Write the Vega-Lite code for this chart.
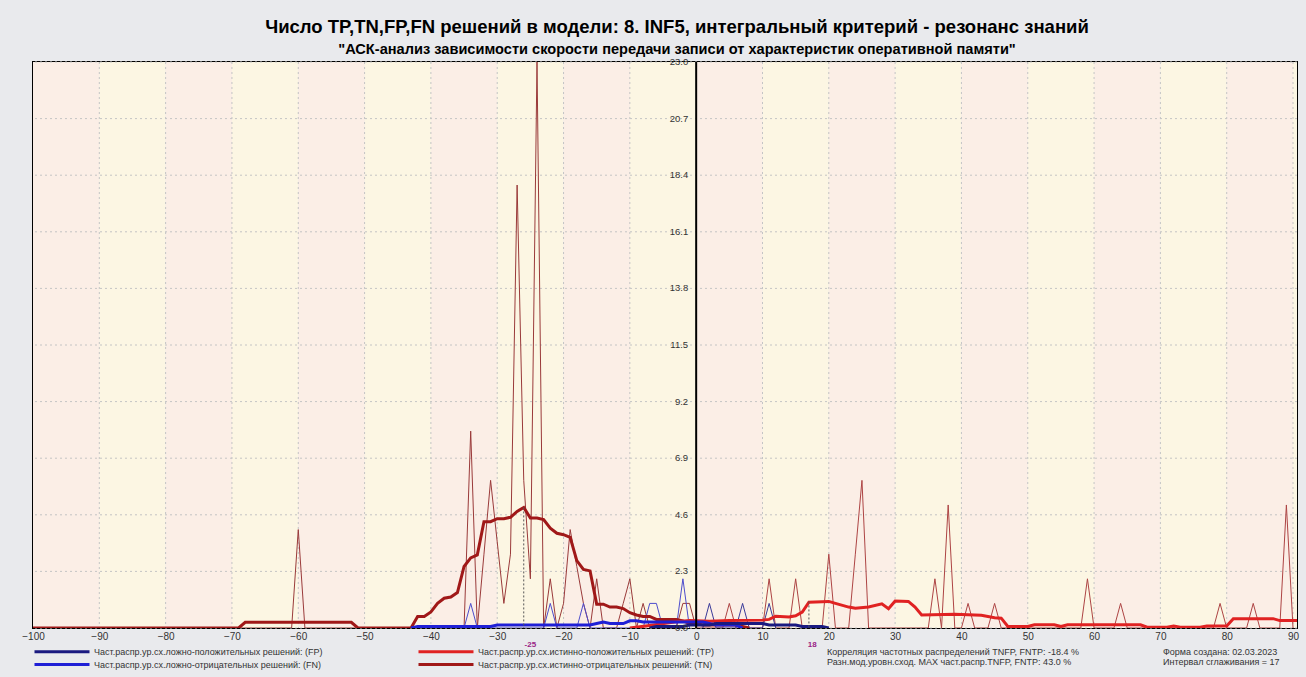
{
  "$schema": "https://vega.github.io/schema/vega-lite/v6.json",
  "width": 1264,
  "height": 566,
  "autosize": {"type": "none"},
  "padding": {"left": 33, "top": 62, "right": 9, "bottom": 49},
  "background": "#e9eaed",
  "title": {
    "text": "Число TP,TN,FP,FN решений в модели: 8. INF5, интегральный критерий - резонанс знаний",
    "subtitle": "\"АСК-анализ зависимости скорости передачи записи от характеристик оперативной памяти\"",
    "anchor": "middle",
    "dx": 12,
    "font": "Liberation Sans",
    "subtitleFont": "Liberation Sans",
    "fontSize": 18.5,
    "subtitleFontSize": 14.6,
    "fontWeight": "bold",
    "subtitleFontWeight": "bold",
    "color": "#000000",
    "subtitleColor": "#000000",
    "offset": 0,
    "subtitlePadding": 6
  },
  "config": {
    "view": {"stroke": "#000000", "strokeWidth": 2},
    "font": "Liberation Sans"
  },
  "datasets": {
    "bands": [
      {"a": -100, "b": -90, "k": "p"}, {"a": -90, "b": -80, "k": "y"},
      {"a": -80, "b": -70, "k": "p"}, {"a": -70, "b": -60, "k": "y"},
      {"a": -60, "b": -50, "k": "p"}, {"a": -50, "b": -40, "k": "y"},
      {"a": -40, "b": -30, "k": "p"}, {"a": -30, "b": -20, "k": "y"},
      {"a": -20, "b": -10, "k": "p"}, {"a": -10, "b": 0, "k": "y"},
      {"a": 0, "b": 10, "k": "p"}, {"a": 10, "b": 20, "k": "y"},
      {"a": 20, "b": 30, "k": "p"}, {"a": 30, "b": 40, "k": "y"},
      {"a": 40, "b": 50, "k": "p"}, {"a": 50, "b": 60, "k": "y"},
      {"a": 60, "b": 70, "k": "p"}, {"a": 70, "b": 80, "k": "y"},
      {"a": 80, "b": 90, "k": "p"}, {"a": 90, "b": 100, "k": "y"}
    ],
    "xgrid": [
      {"x": -90}, {"x": -80}, {"x": -70}, {"x": -60}, {"x": -50}, {"x": -40}, {"x": -30}, {"x": -20}, {"x": -10},
      {"x": 10}, {"x": 20}, {"x": 30}, {"x": 40}, {"x": 50}, {"x": 60}, {"x": 70}, {"x": 80}, {"x": 90}
    ],
    "yticks": [
      {"v": 0}, {"v": 2.3}, {"v": 4.6}, {"v": 6.9}, {"v": 9.2}, {"v": 11.5},
      {"v": 13.8}, {"v": 16.1}, {"v": 18.4}, {"v": 20.7}, {"v": 23.0}
    ],
    "modes": [
      {"x": -26, "top": 4.9, "lx": -25, "lbl": "-25"},
      {"x": 17, "top": 1.08, "lx": 17.5, "lbl": "18"}
    ],
    "tnRaw": [
      {"x": -100, "v": 0}, {"x": -61, "v": 0}, {"x": -60, "v": 4}, {"x": -59, "v": 0},
      {"x": -35, "v": 0}, {"x": -34, "v": 8}, {"x": -33, "v": 0}, {"x": -32, "v": 3},
      {"x": -31, "v": 6}, {"x": -30, "v": 3.5}, {"x": -29, "v": 1}, {"x": -28, "v": 3},
      {"x": -27, "v": 18}, {"x": -26, "v": 6}, {"x": -25, "v": 2}, {"x": -24, "v": 23},
      {"x": -23, "v": 0}, {"x": -22, "v": 2}, {"x": -21, "v": 0}, {"x": -20, "v": 1},
      {"x": -19, "v": 4}, {"x": -18, "v": 2.5}, {"x": -17, "v": 1}, {"x": -16, "v": 0},
      {"x": -15, "v": 2}, {"x": -14, "v": 0}, {"x": -12, "v": 0}, {"x": -11, "v": 1},
      {"x": -10, "v": 2}, {"x": -9, "v": 0}, {"x": -8, "v": 1}, {"x": -7, "v": 0},
      {"x": -3, "v": 0}, {"x": -2, "v": 1}, {"x": -1, "v": 1}, {"x": 0, "v": 0}
    ],
    "tpRaw": [
      {"x": 0, "v": 0}, {"x": 4, "v": 0}, {"x": 5, "v": 1}, {"x": 6, "v": 0},
      {"x": 10, "v": 0}, {"x": 11, "v": 2}, {"x": 12, "v": 0},
      {"x": 14, "v": 0}, {"x": 15, "v": 2}, {"x": 16, "v": 0},
      {"x": 19, "v": 0}, {"x": 20, "v": 3}, {"x": 21, "v": 0},
      {"x": 23, "v": 0}, {"x": 24, "v": 3}, {"x": 25, "v": 6}, {"x": 26, "v": 0},
      {"x": 35, "v": 0}, {"x": 36, "v": 2}, {"x": 37, "v": 0}, {"x": 38, "v": 5}, {"x": 39, "v": 0},
      {"x": 40, "v": 0}, {"x": 41, "v": 1}, {"x": 42, "v": 0},
      {"x": 44, "v": 0}, {"x": 45, "v": 1}, {"x": 46, "v": 0},
      {"x": 58, "v": 0}, {"x": 59, "v": 2}, {"x": 60, "v": 0},
      {"x": 63, "v": 0}, {"x": 64, "v": 1}, {"x": 65, "v": 0},
      {"x": 78, "v": 0}, {"x": 79, "v": 1}, {"x": 80, "v": 0},
      {"x": 83, "v": 0}, {"x": 84, "v": 1}, {"x": 85, "v": 0},
      {"x": 88, "v": 0}, {"x": 89, "v": 5}, {"x": 90, "v": 0}
    ],
    "fnRaw": [
      {"x": -35, "v": 0}, {"x": -34, "v": 1}, {"x": -33, "v": 0},
      {"x": -23, "v": 0}, {"x": -22, "v": 1}, {"x": -21, "v": 0},
      {"x": -18, "v": 0}, {"x": -17, "v": 1}, {"x": -16, "v": 0},
      {"x": -8, "v": 0}, {"x": -7, "v": 1}, {"x": -6, "v": 1}, {"x": -5, "v": 0},
      {"x": -3, "v": 0}, {"x": -2, "v": 2}, {"x": -1, "v": 0}
    ],
    "fpRaw": [
      {"x": 1, "v": 0}, {"x": 2, "v": 1}, {"x": 3, "v": 0},
      {"x": 6, "v": 0}, {"x": 7, "v": 1}, {"x": 8, "v": 0},
      {"x": 10, "v": 0}, {"x": 11, "v": 1}, {"x": 12, "v": 0}
    ],
    "smooth": [
      {"s": "TN", "x": -100, "v": 0}, {"s": "TN", "x": -69, "v": 0}, {"s": "TN", "x": -68, "v": 0.23},
      {"s": "TN", "x": -52, "v": 0.23}, {"s": "TN", "x": -51, "v": 0}, {"s": "TN", "x": -43, "v": 0},
      {"s": "TN", "x": -42, "v": 0.47}, {"s": "TN", "x": -41, "v": 0.47}, {"s": "TN", "x": -40, "v": 0.65},
      {"s": "TN", "x": -39, "v": 1.0}, {"s": "TN", "x": -38, "v": 1.21}, {"s": "TN", "x": -37, "v": 1.26},
      {"s": "TN", "x": -36, "v": 1.44}, {"s": "TN", "x": -35, "v": 2.5}, {"s": "TN", "x": -34, "v": 2.85},
      {"s": "TN", "x": -33, "v": 2.97}, {"s": "TN", "x": -32, "v": 4.32}, {"s": "TN", "x": -31, "v": 4.32},
      {"s": "TN", "x": -30, "v": 4.44}, {"s": "TN", "x": -29, "v": 4.44}, {"s": "TN", "x": -28, "v": 4.5},
      {"s": "TN", "x": -27, "v": 4.74}, {"s": "TN", "x": -26, "v": 4.9}, {"s": "TN", "x": -25, "v": 4.47},
      {"s": "TN", "x": -24, "v": 4.47}, {"s": "TN", "x": -23, "v": 4.41}, {"s": "TN", "x": -22, "v": 4.06},
      {"s": "TN", "x": -21, "v": 3.85}, {"s": "TN", "x": -20, "v": 3.79}, {"s": "TN", "x": -19, "v": 3.68},
      {"s": "TN", "x": -18, "v": 2.74}, {"s": "TN", "x": -17, "v": 2.38}, {"s": "TN", "x": -16, "v": 2.32},
      {"s": "TN", "x": -15, "v": 0.97}, {"s": "TN", "x": -14, "v": 0.97}, {"s": "TN", "x": -13, "v": 0.85},
      {"s": "TN", "x": -12, "v": 0.85}, {"s": "TN", "x": -11, "v": 0.79}, {"s": "TN", "x": -10, "v": 0.62},
      {"s": "TN", "x": -9, "v": 0.53}, {"s": "TN", "x": -8, "v": 0.47}, {"s": "TN", "x": -7, "v": 0.47},
      {"s": "TN", "x": -6, "v": 0.35}, {"s": "TN", "x": -3, "v": 0.35}, {"s": "TN", "x": -2, "v": 0.29},
      {"s": "TN", "x": -1, "v": 0.18}, {"s": "TN", "x": 0, "v": 0.18}, {"s": "TN", "x": 1, "v": 0.12},
      {"s": "TN", "x": 6, "v": 0.12}, {"s": "TN", "x": 7, "v": 0.06}, {"s": "TN", "x": 8, "v": 0},

      {"s": "TP", "x": -10, "v": 0}, {"s": "TP", "x": -7, "v": 0.1}, {"s": "TP", "x": -3, "v": 0.25},
      {"s": "TP", "x": -1, "v": 0.3}, {"s": "TP", "x": 2, "v": 0.27}, {"s": "TP", "x": 5, "v": 0.3},
      {"s": "TP", "x": 10, "v": 0.32}, {"s": "TP", "x": 11, "v": 0.35}, {"s": "TP", "x": 12, "v": 0.48},
      {"s": "TP", "x": 14, "v": 0.45}, {"s": "TP", "x": 15, "v": 0.5}, {"s": "TP", "x": 16, "v": 0.65},
      {"s": "TP", "x": 17, "v": 1.05}, {"s": "TP", "x": 20, "v": 1.08}, {"s": "TP", "x": 21, "v": 1.0},
      {"s": "TP", "x": 23, "v": 0.85}, {"s": "TP", "x": 24, "v": 0.8}, {"s": "TP", "x": 26, "v": 0.85},
      {"s": "TP", "x": 28, "v": 0.98}, {"s": "TP", "x": 29, "v": 0.78}, {"s": "TP", "x": 30, "v": 1.1},
      {"s": "TP", "x": 32, "v": 1.08}, {"s": "TP", "x": 33, "v": 0.85}, {"s": "TP", "x": 34, "v": 0.53},
      {"s": "TP", "x": 39, "v": 0.56}, {"s": "TP", "x": 43, "v": 0.52}, {"s": "TP", "x": 45, "v": 0.42},
      {"s": "TP", "x": 46, "v": 0.4}, {"s": "TP", "x": 47, "v": 0.06}, {"s": "TP", "x": 50, "v": 0.06},
      {"s": "TP", "x": 51, "v": 0.13}, {"s": "TP", "x": 54, "v": 0.13}, {"s": "TP", "x": 55, "v": 0.06},
      {"s": "TP", "x": 56, "v": 0.13}, {"s": "TP", "x": 67, "v": 0.13}, {"s": "TP", "x": 68, "v": 0.03},
      {"s": "TP", "x": 71, "v": 0.03}, {"s": "TP", "x": 72, "v": 0.08}, {"s": "TP", "x": 73, "v": 0.03},
      {"s": "TP", "x": 76, "v": 0.03}, {"s": "TP", "x": 77, "v": 0.08}, {"s": "TP", "x": 80, "v": 0.08},
      {"s": "TP", "x": 81, "v": 0.38}, {"s": "TP", "x": 87, "v": 0.38}, {"s": "TP", "x": 88, "v": 0.3},
      {"s": "TP", "x": 90.6, "v": 0.3},

      {"s": "FN", "x": -43, "v": 0}, {"s": "FN", "x": -42, "v": 0.06}, {"s": "FN", "x": -31, "v": 0.06},
      {"s": "FN", "x": -30, "v": 0.12}, {"s": "FN", "x": -16, "v": 0.12}, {"s": "FN", "x": -15, "v": 0.18},
      {"s": "FN", "x": -14, "v": 0.24}, {"s": "FN", "x": -13, "v": 0.18}, {"s": "FN", "x": -11, "v": 0.18},
      {"s": "FN", "x": -10, "v": 0.29}, {"s": "FN", "x": -9, "v": 0.29}, {"s": "FN", "x": -8, "v": 0.24},
      {"s": "FN", "x": 1, "v": 0.24}, {"s": "FN", "x": 2, "v": 0.18}, {"s": "FN", "x": 3, "v": 0.12},
      {"s": "FN", "x": 6, "v": 0.12}, {"s": "FN", "x": 7, "v": 0},

      {"s": "FP", "x": -7, "v": 0}, {"s": "FP", "x": -6, "v": 0.06}, {"s": "FP", "x": -2, "v": 0.06},
      {"s": "FP", "x": -1, "v": 0.12}, {"s": "FP", "x": 2, "v": 0.12}, {"s": "FP", "x": 3, "v": 0.18},
      {"s": "FP", "x": 10, "v": 0.18}, {"s": "FP", "x": 11, "v": 0.12}, {"s": "FP", "x": 15, "v": 0.12},
      {"s": "FP", "x": 16, "v": 0.06}, {"s": "FP", "x": 19, "v": 0.06}, {"s": "FP", "x": 20, "v": 0}
    ],
    "notes": [
      {"note": "Корреляция частотных распределений TNFP, FNTP: -18.4 %"},
      {"note": "Разн.мод.уровн.сход. MAX част.распр.TNFP, FNTP:  43.0 %"},
      {"note": "Форма создана: 02.03.2023"},
      {"note": "Интервал сглаживания = 17"}
    ]
  },
  "layer": [
    {
      "data": {"name": "bands"},
      "mark": {"type": "rect", "clip": true},
      "encoding": {
        "x": {"field": "a", "type": "quantitative", "scale": {"domain": [-100, 90.6], "nice": false, "zero": false},
              "axis": {"values": [-100, -90, -80, -70, -60, -50, -40, -30, -20, -10, 0, 10, 20, 30, 40, 50, 60, 70, 80, 90],
                       "title": null, "grid": false, "ticks": false, "domain": false, "labelFont": "Liberation Sans",
                       "labelFontSize": 10, "labelColor": "#333333", "labelPadding": 3, "labelFlush": false, "labelOverlap": false}},
        "x2": {"field": "b"},
        "fill": {"field": "k", "type": "nominal", "scale": {"domain": ["p", "y"], "range": ["#fbeee6", "#fcf6e3"]}, "legend": null}
      }
    },
    {
      "data": {"name": "xgrid"},
      "mark": {"type": "rule", "color": "#c4c4c4", "strokeDash": [2, 3], "strokeWidth": 1},
      "encoding": {"x": {"field": "x", "type": "quantitative"}}
    },
    {
      "data": {"name": "yticks"},
      "mark": {"type": "rule", "color": "#c4c4c4", "strokeDash": [2, 3], "strokeWidth": 1},
      "encoding": {"y": {"field": "v", "type": "quantitative", "scale": {"domain": [0, 23], "nice": false, "zero": true}, "axis": null}}
    },
    {
      "data": {"name": "tnRaw"},
      "mark": {"type": "line", "color": "#9a3a3a", "strokeWidth": 1, "clip": true},
      "encoding": {"x": {"field": "x", "type": "quantitative"}, "y": {"field": "v", "type": "quantitative"}}
    },
    {
      "data": {"name": "tpRaw"},
      "mark": {"type": "line", "color": "#ad4444", "strokeWidth": 1, "clip": true},
      "encoding": {"x": {"field": "x", "type": "quantitative"}, "y": {"field": "v", "type": "quantitative"}}
    },
    {
      "data": {"name": "fnRaw"},
      "mark": {"type": "line", "color": "#4d4dcc", "strokeWidth": 1, "clip": true},
      "encoding": {"x": {"field": "x", "type": "quantitative"}, "y": {"field": "v", "type": "quantitative"}}
    },
    {
      "data": {"name": "fpRaw"},
      "mark": {"type": "line", "color": "#3a3a99", "strokeWidth": 1, "clip": true},
      "encoding": {"x": {"field": "x", "type": "quantitative"}, "y": {"field": "v", "type": "quantitative"}}
    },
    {
      "data": {"name": "smooth"},
      "mark": {"type": "line", "strokeWidth": 3, "clip": true},
      "encoding": {
        "x": {"field": "x", "type": "quantitative"},
        "y": {"field": "v", "type": "quantitative"},
        "color": {
          "field": "s", "type": "nominal",
          "scale": {"domain": ["FP", "FN", "TP", "TN"], "range": ["#1a1a80", "#1f1fd6", "#e02222", "#a01818"]},
          "legend": {
            "orient": "none", "legendX": 0, "legendY": 585, "columns": 2, "columnPadding": 89, "rowPadding": 0,
            "title": null, "padding": 0,
            "symbolType": "M-1,0H17.33", "symbolSize": 36, "symbolStrokeWidth": 3,
            "labelOffset": 52, "labelFont": "Liberation Sans", "labelFontSize": 9, "labelColor": "#333333", "labelLimit": 0,
            "labelExpr": "{'FP': 'Част.распр.ур.сх.ложно-положительных решений: (FP)', 'FN': 'Част.распр.ур.сх.ложно-отрицательных решений: (FN)', 'TP': 'Част.распр.ур.сх.истинно-положительных решений: (TP)', 'TN': 'Част.распр.ур.сх.истинно-отрицательных решений: (TN)'}[datum.label]"
          }
        }
      }
    },
    {
      "data": {"name": "modes"},
      "mark": {"type": "rule", "color": "#555555", "strokeDash": [2, 2], "strokeWidth": 1},
      "encoding": {"x": {"field": "x", "type": "quantitative"}, "y": {"field": "top", "type": "quantitative"}, "y2": {"datum": 0}}
    },
    {
      "data": {"name": "modes"},
      "mark": {"type": "text", "color": "#9a1f86", "fontSize": 8, "fontWeight": "bold", "dy": 17, "font": "Liberation Sans", "clip": false},
      "encoding": {"x": {"field": "lx", "type": "quantitative"}, "y": {"datum": 0, "type": "quantitative"}, "text": {"field": "lbl", "type": "nominal"}}
    },
    {
      "data": {"values": [{"x": 0}]},
      "mark": {"type": "rule", "color": "#000000", "strokeWidth": 2},
      "encoding": {"x": {"field": "x", "type": "quantitative"}}
    },
    {
      "data": {"name": "yticks"},
      "mark": {"type": "text", "align": "right", "baseline": "middle", "dx": -8, "fontSize": 9.5, "color": "#333333", "font": "Liberation Sans"},
      "encoding": {"x": {"datum": 0, "type": "quantitative"}, "y": {"field": "v", "type": "quantitative"}, "text": {"field": "v", "type": "quantitative", "format": ".1f"}}
    },
    {
      "data": {"name": "notes"},
      "mark": {"type": "point", "opacity": 0},
      "encoding": {
        "shape": {
          "field": "note", "type": "nominal",
          "scale": {"domain": [
            "Корреляция частотных распределений TNFP, FNTP: -18.4 %",
            "Разн.мод.уровн.сход. MAX част.распр.TNFP, FNTP:  43.0 %",
            "Форма создана: 02.03.2023",
            "Интервал сглаживания = 17"
          ]},
          "legend": {
            "orient": "none", "legendX": 785, "legendY": 585, "columns": 2, "columnPadding": 74, "rowPadding": 0,
            "title": null, "padding": 0, "symbolSize": 0, "symbolOpacity": 0, "labelOffset": 0,
            "labelFont": "Liberation Sans", "labelFontSize": 9, "labelColor": "#333333", "labelLimit": 0
          }
        }
      }
    }
  ]
}
